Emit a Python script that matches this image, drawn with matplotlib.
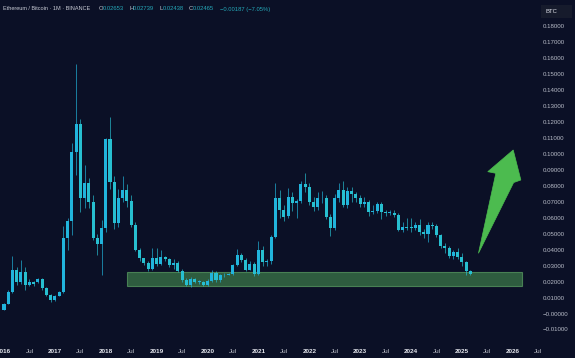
import matplotlib
matplotlib.use("Agg")
import matplotlib.pyplot as plt
from matplotlib.patches import Rectangle, Polygon
import numpy as np

plt.rcParams["font.family"] = ["Liberation Sans", "DejaVu Sans"]

# ---------------- data (monthly ETH/BTC candles, Jan 2016 .. Mar 2025) ----------------
opens = [0.0023, 0.0062, 0.0137, 0.0270, 0.0196, 0.0258, 0.0181, 0.0198, 0.0200, 0.0214, 0.0160, 0.0118,
         0.0083, 0.0112, 0.0134, 0.0470, 0.0580, 0.1012, 0.1187, 0.0722, 0.0815, 0.0700, 0.0472, 0.0434,
         0.0537, 0.1093, 0.0825, 0.0565, 0.0722, 0.0773, 0.0706, 0.0556, 0.0400, 0.0346, 0.0314, 0.0280,
         0.0349, 0.0311, 0.0352, 0.0341, 0.0302, 0.0314, 0.0268, 0.0212, 0.0178, 0.0218, 0.0198, 0.0200,
         0.0180, 0.0203, 0.0255, 0.0207, 0.0239, 0.0244, 0.0247, 0.0304, 0.0368, 0.0335, 0.0275, 0.0313,
         0.0245, 0.0397, 0.0324, 0.0326, 0.0477, 0.0721, 0.0648, 0.0610, 0.0728, 0.0690, 0.0702, 0.0810,
         0.0795, 0.0700, 0.0670, 0.0721, 0.0725, 0.0605, 0.0533, 0.0721, 0.0773, 0.0680, 0.0765, 0.0750,
         0.0722, 0.0686, 0.0700, 0.0637, 0.0642, 0.0688, 0.0635, 0.0630, 0.0632, 0.0618, 0.0523, 0.0540,
         0.0538, 0.0535, 0.0552, 0.0508, 0.0498, 0.0555, 0.0548, 0.0490, 0.0420, 0.0410, 0.0357, 0.0385,
         0.0356, 0.0320, 0.02653]
highs = [0.0066, 0.0150, 0.0360, 0.0290, 0.0335, 0.0290, 0.0215, 0.0205, 0.0222, 0.0220, 0.0168, 0.0122,
         0.0115, 0.0140, 0.0550, 0.0600, 0.1070, 0.1560, 0.1220, 0.0930, 0.0850, 0.0740, 0.0500, 0.0585,
         0.1100, 0.1230, 0.0860, 0.0780, 0.0860, 0.0810, 0.0740, 0.0575, 0.0410, 0.0350, 0.0330, 0.0410,
         0.0410, 0.0400, 0.0360, 0.0350, 0.0340, 0.0330, 0.0280, 0.0222, 0.0230, 0.0225, 0.0210, 0.0205,
         0.0215, 0.0275, 0.0265, 0.0245, 0.0255, 0.0252, 0.0310, 0.0404, 0.0380, 0.0345, 0.0330, 0.0325,
         0.0456, 0.0420, 0.0340, 0.0490, 0.0820, 0.0775, 0.0680, 0.0788, 0.0760, 0.0720, 0.0830, 0.0880,
         0.0820, 0.0730, 0.0760, 0.0770, 0.0740, 0.0620, 0.0750, 0.0818, 0.0830, 0.0790, 0.0790, 0.0760,
         0.0740, 0.0730, 0.0710, 0.0680, 0.0700, 0.0700, 0.0650, 0.0650, 0.0645, 0.0630, 0.0570, 0.0600,
         0.0600, 0.0570, 0.0590, 0.0530, 0.0570, 0.0575, 0.0560, 0.0500, 0.0440, 0.0420, 0.0400, 0.0410,
         0.0380, 0.0330, 0.02739]
lows = [0.0020, 0.0058, 0.0130, 0.0180, 0.0185, 0.0147, 0.0170, 0.0172, 0.0190, 0.0150, 0.0110, 0.0075,
        0.0079, 0.0108, 0.0128, 0.0400, 0.0490, 0.0870, 0.0637, 0.0660, 0.0660, 0.0460, 0.0366, 0.0240,
        0.0510, 0.0780, 0.0530, 0.0540, 0.0700, 0.0670, 0.0540, 0.0390, 0.0330, 0.0305, 0.0265, 0.0270,
        0.0300, 0.0305, 0.0330, 0.0290, 0.0280, 0.0260, 0.0200, 0.0170, 0.0165, 0.0190, 0.0185, 0.0170,
        0.0172, 0.0198, 0.0200, 0.0200, 0.0230, 0.0238, 0.0240, 0.0295, 0.0320, 0.0265, 0.0270, 0.0235,
        0.0240, 0.0300, 0.0300, 0.0310, 0.0470, 0.0600, 0.0580, 0.0600, 0.0640, 0.0600, 0.0690, 0.0760,
        0.0680, 0.0640, 0.0650, 0.0690, 0.0590, 0.0485, 0.0520, 0.0700, 0.0670, 0.0660, 0.0700, 0.0700,
        0.0670, 0.0670, 0.0610, 0.0620, 0.0630, 0.0590, 0.0610, 0.0615, 0.0605, 0.0515, 0.0510, 0.0520,
        0.0510, 0.0520, 0.0490, 0.0470, 0.0450, 0.0530, 0.0480, 0.0410, 0.0380, 0.0350, 0.0340, 0.0340,
        0.0300, 0.0240, 0.02438]
closes = [0.0062, 0.0137, 0.0272, 0.0198, 0.0258, 0.0180, 0.0198, 0.0186, 0.0214, 0.0160, 0.0118, 0.0083,
          0.0108, 0.0134, 0.0470, 0.0580, 0.1012, 0.1187, 0.0722, 0.0815, 0.0700, 0.0472, 0.0434, 0.0537,
          0.1093, 0.0825, 0.0565, 0.0725, 0.0773, 0.0706, 0.0556, 0.0400, 0.0346, 0.0314, 0.0280, 0.0349,
          0.0311, 0.0352, 0.0341, 0.0304, 0.0314, 0.0268, 0.0212, 0.0178, 0.0218, 0.0198, 0.0200, 0.0180,
          0.0203, 0.0255, 0.0207, 0.0239, 0.0244, 0.0247, 0.0304, 0.0368, 0.0335, 0.0275, 0.0313, 0.0245,
          0.0397, 0.0324, 0.0326, 0.0477, 0.0721, 0.0648, 0.0606, 0.0728, 0.0690, 0.0702, 0.0810, 0.0795,
          0.0700, 0.0670, 0.0721, 0.0725, 0.0605, 0.0533, 0.0721, 0.0773, 0.0680, 0.0765, 0.0750, 0.0722,
          0.0686, 0.0700, 0.0637, 0.0642, 0.0688, 0.0635, 0.0630, 0.0632, 0.0618, 0.0523, 0.0540, 0.0538,
          0.0535, 0.0552, 0.0508, 0.0498, 0.0555, 0.0548, 0.0490, 0.0420, 0.0410, 0.0357, 0.0385, 0.0356,
          0.0320, 0.0264, 0.02465]

year_labels = ["2016", "2017", "2018", "2019", "2020", "2021", "2022", "2023", "2024", "2025", "2026"]
price_ticks = [-0.01, 0.0, 0.01, 0.02, 0.03, 0.04, 0.05, 0.06, 0.07, 0.08, 0.09,
               0.10, 0.11, 0.12, 0.13, 0.14, 0.15, 0.16, 0.17, 0.18]

# support zone (month index range, price range)
zone_months = [29.1, 122.2]
zone_prices = [0.0172, 0.0260]
# hand-drawn arrow (month index, price)
arrow_m = [111.9, 116.0, 114.1, 120.1, 121.9, 120.2]
arrow_p = [0.0377, 0.0878, 0.0888, 0.1024, 0.0836, 0.0820]

header_name = "Ethereum / Bitcoin · 1M · BINANCE"
header_vals = [("O", "0.02653"), ("H", "0.02739"), ("L", "0.02438"), ("C", "0.02465")]
header_change = "\u22120.00187 (\u22127.05%)"

# ---------------- style ----------------
BG = "#0b1026"
UP = "#21b4dc"
DOWN = "#27bfd0"
TXT = "#c9ccd6"
TEAL = "#25a8b8"

W, H = 575, 358
fig = plt.figure(figsize=(W / 100, H / 100), dpi=100, facecolor=BG)
ax = fig.add_axes([0, 18 / H, 1, 1 - 38 / H])
ax.set_facecolor(BG)

o = np.array(opens); h = np.array(highs); l = np.array(lows); c = np.array(closes)
x = np.arange(len(o))
up = c >= o
bottoms = np.minimum(o, c)
heights = np.maximum(np.abs(c - o), 0.0005)
cols = np.where(up, UP, DOWN)

# zone (behind candles)
ax.add_patch(Rectangle((zone_months[0], zone_prices[0]), zone_months[1] - zone_months[0],
                       zone_prices[1] - zone_prices[0], facecolor="#3d7a4a", alpha=0.72,
                       edgecolor="#5a9e62", linewidth=0.8, zorder=1))

ax.vlines(x, l, h, colors=cols, linewidth=0.55, zorder=2, alpha=0.85)
ax.bar(x, heights, bottom=bottoms, width=0.72, color=cols, linewidth=0, zorder=3)

# arrow
ax.add_patch(Polygon(np.column_stack([arrow_m, arrow_p]), closed=True, facecolor="#4cbb4f",
                     edgecolor="#4cbb4f", linewidth=0.5, zorder=5))

# axes limits: pixel mapping (x=4 at month 0, 4.24 px/month; y = 313.5 - 1597*p)
ppm = 4.24
ax.set_xlim(-4 / ppm, (W - 4) / ppm)
y_top_px, y_bot_px = 20, 340
ax.set_ylim((313.5 - y_bot_px) / 1597, (313.5 - y_top_px) / 1597)

for s in ax.spines.values():
    s.set_visible(False)

# y ticks (right, drawn inside)
def fmt(v):
    if v <= 0:
        return "\u2212" + f"{abs(v):.5f}"
    return f"{v:.5f}"

ax.yaxis.tick_right()
ax.set_yticks(price_ticks)
ax.set_yticklabels([fmt(v) for v in price_ticks])
ax.tick_params(axis="y", length=0, pad=-23, labelsize=4.4, labelcolor="#b8bcc8")

# x ticks: years + Jul
xt, xl = [], []
for i, yl in enumerate(year_labels):
    xt.append(12 * i); xl.append(yl)
    xt.append(12 * i + 6); xl.append("Jul")
ax.set_xticks(xt)
ax.set_xticklabels(xl)
ax.tick_params(axis="x", length=0, pad=6.5, labelsize=4.6, labelcolor=TXT)
for lab in ax.get_xticklabels():
    if lab.get_text() != "Jul":
        lab.set_fontweight("bold")
        lab.set_color("#e3e5ec")
    else:
        lab.set_color("#c0c3cc")

# header
ty = 1 - 9 / H
fig.text(3 / W, ty, header_name, color=TXT, fontsize=4.0, va="center", ha="left")
xs = [99, 129, 159, 189]
for (k, v), xp in zip(header_vals, xs):
    fig.text(xp / W, ty, k, color=TXT, fontsize=4.2, va="center", ha="left")
    fig.text((xp + 4) / W, ty, v, color=TEAL, fontsize=4.2, va="center", ha="left")
fig.text(220 / W, ty, header_change, color=TEAL, fontsize=4.2, va="center", ha="left")

# BTC box
fig.patches.append(Rectangle((541 / W, 1 - 18 / H), 31 / W, 13 / H, transform=fig.transFigure,
                             facecolor="#161b2c", edgecolor="none"))
fig.text(545 / W, 1 - 11.5 / H, "BTC", color="#e0e2ea", fontsize=4.3, va="center", ha="left")

fig.savefig("out.png", dpi=100, facecolor=BG)
